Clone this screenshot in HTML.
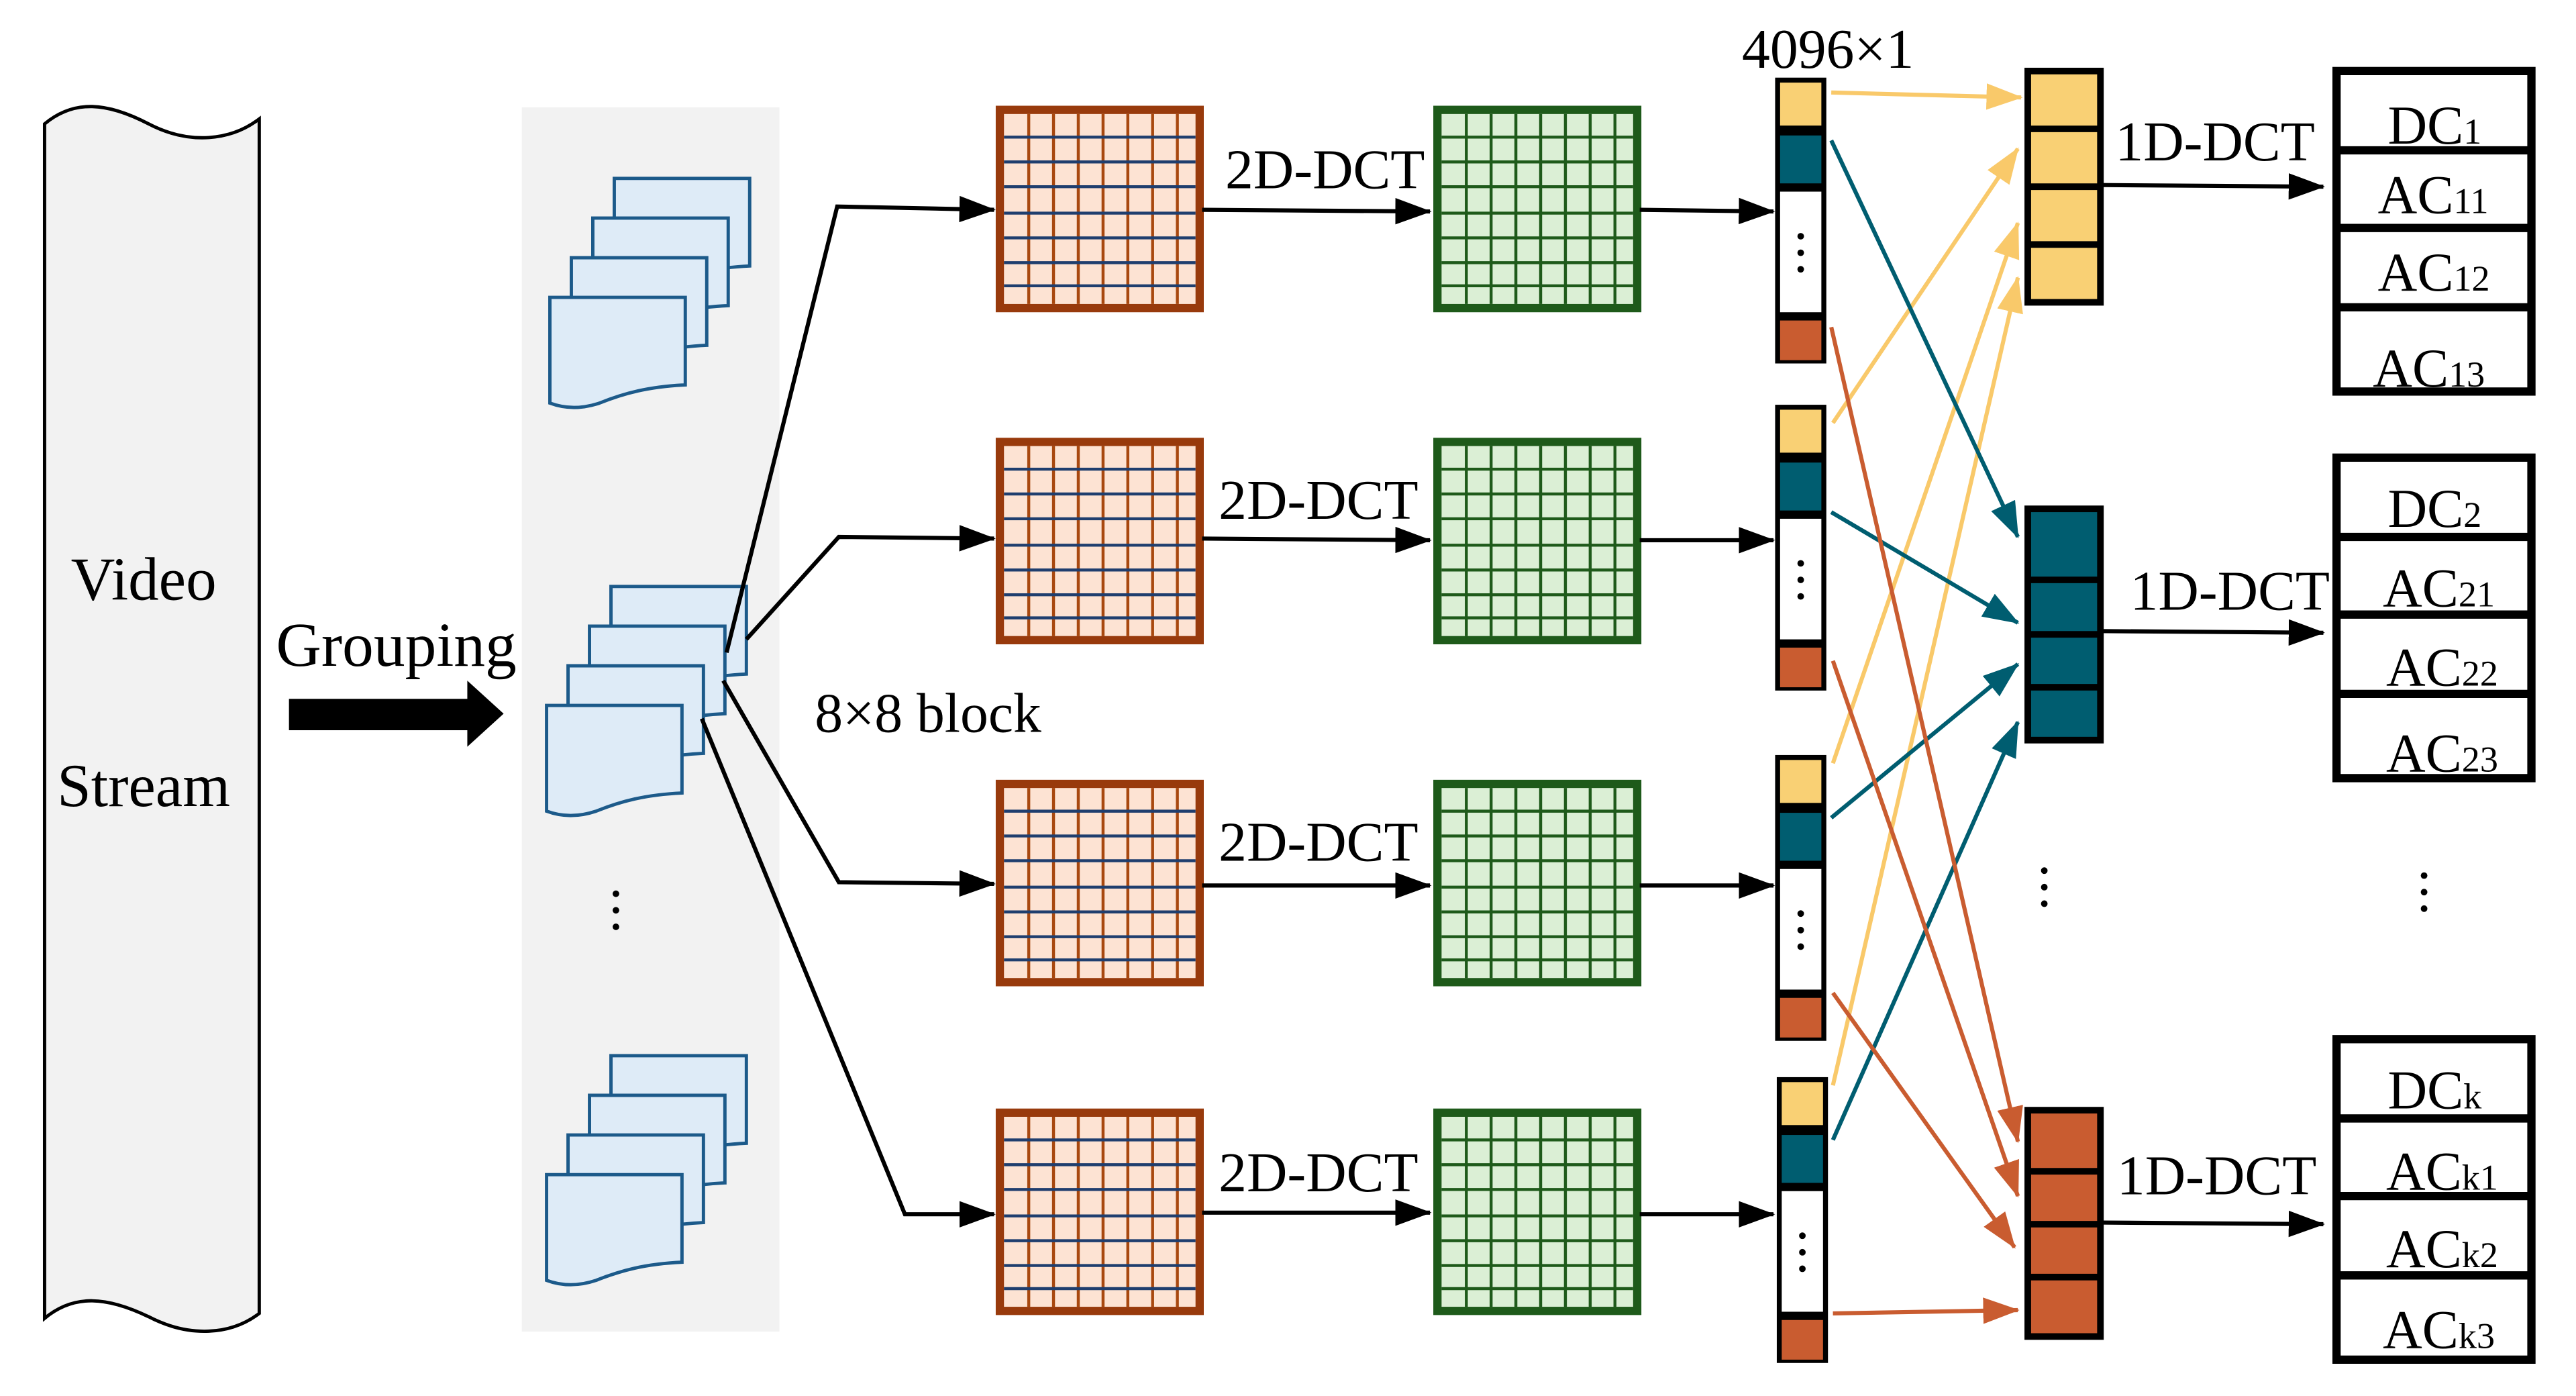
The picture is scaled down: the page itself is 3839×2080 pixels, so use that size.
<!DOCTYPE html>
<html><head><meta charset="utf-8"><style>html,body{margin:0;padding:0;background:#fff}svg{display:block}text{font-family:"Liberation Serif",serif;fill:#000}</style></head><body>
<svg width="3839" height="2080" viewBox="0 0 1560 845" preserveAspectRatio="none" xmlns="http://www.w3.org/2000/svg">
<defs>
<marker id="mkb" markerWidth="22" markerHeight="18" refX="21" refY="9" orient="auto" markerUnits="userSpaceOnUse"><path d="M0,1 L22,9 L0,17 Z" fill="#000"/></marker>
<marker id="my" markerWidth="22" markerHeight="18" refX="21" refY="9" orient="auto" markerUnits="userSpaceOnUse"><path d="M0,1 L22,9 L0,17 Z" fill="#f9c96a"/></marker>
<marker id="mt" markerWidth="22" markerHeight="18" refX="21" refY="9" orient="auto" markerUnits="userSpaceOnUse"><path d="M0,1 L22,9 L0,17 Z" fill="#005d70"/></marker>
<marker id="mo" markerWidth="22" markerHeight="18" refX="21" refY="9" orient="auto" markerUnits="userSpaceOnUse"><path d="M0,1 L22,9 L0,17 Z" fill="#c95c30"/></marker>
<g id="rg">
<rect x="1.5" y="1.5" width="121" height="120" fill="#fde3d3" stroke="#983a0c" stroke-width="5"/>
<g stroke="#a8480f" stroke-width="1.8"><line x1="19" y1="4" x2="19" y2="119"/><line x1="34" y1="4" x2="34" y2="119"/><line x1="49" y1="4" x2="49" y2="119"/><line x1="64" y1="4" x2="64" y2="119"/><line x1="79" y1="4" x2="79" y2="119"/><line x1="94" y1="4" x2="94" y2="119"/><line x1="109" y1="4" x2="109" y2="119"/></g>
<g stroke="#1f3e6e" stroke-width="1.8"><line x1="4" y1="18" x2="120" y2="18"/><line x1="4" y1="33" x2="120" y2="33"/><line x1="4" y1="48" x2="120" y2="48"/><line x1="4" y1="64" x2="120" y2="64"/><line x1="4" y1="79" x2="120" y2="79"/><line x1="4" y1="94" x2="120" y2="94"/><line x1="4" y1="108" x2="120" y2="108"/></g>
</g>
<g id="gg">
<rect x="1.5" y="1.5" width="121" height="120" fill="#dbefd5" stroke="#1e5a1a" stroke-width="5"/>
<g stroke="#1e5a1a" stroke-width="1.8"><line x1="19" y1="4" x2="19" y2="119"/><line x1="34" y1="4" x2="34" y2="119"/><line x1="49" y1="4" x2="49" y2="119"/><line x1="64" y1="4" x2="64" y2="119"/><line x1="79" y1="4" x2="79" y2="119"/><line x1="94" y1="4" x2="94" y2="119"/><line x1="109" y1="4" x2="109" y2="119"/>
<line x1="4" y1="18" x2="120" y2="18"/><line x1="4" y1="33" x2="120" y2="33"/><line x1="4" y1="48" x2="120" y2="48"/><line x1="4" y1="64" x2="120" y2="64"/><line x1="4" y1="79" x2="120" y2="79"/><line x1="4" y1="94" x2="120" y2="94"/><line x1="4" y1="108" x2="120" y2="108"/></g>
</g>
<path id="pg" d="M0,0 H82 V53 C60,54 45,58 30,64 C18,68 8,67 0,64 Z" fill="#deebf7" stroke="#1c5a8a" stroke-width="2"/>
<g id="stk"><use href="#pg" x="39" y="-72"/><use href="#pg" x="26" y="-48"/><use href="#pg" x="13" y="-24"/><use href="#pg" x="0" y="0"/></g>
<g id="vec">
<rect x="0" y="0" width="31" height="173" fill="#000"/>
<rect x="3" y="3" width="25" height="26" fill="#f9d074"/>
<rect x="3" y="35" width="25" height="29" fill="#005d70"/>
<rect x="3" y="69" width="25" height="73" fill="#fff"/>
<rect x="3" y="147" width="25" height="24" fill="#c95c30"/>
<circle cx="15.5" cy="96" r="2" fill="#000"/><circle cx="15.5" cy="106" r="2" fill="#000"/><circle cx="15.5" cy="116" r="2" fill="#000"/>
</g>
<g id="outb">
<rect x="2" y="2" width="118" height="194" fill="#fff" stroke="#000" stroke-width="5"/>
<line x1="2" y1="50" x2="120" y2="50" stroke="#000" stroke-width="5"/>
<line x1="2" y1="97" x2="120" y2="97" stroke="#000" stroke-width="5"/>
<line x1="2" y1="145" x2="120" y2="145" stroke="#000" stroke-width="5"/>
</g>
</defs>

<path d="M27,75 C45,60 65,62 90,75 C115,88 140,85 157,72 V795 C140,808 115,810 90,797 C65,785 45,783 27,798 Z" fill="#f2f2f2" stroke="#000" stroke-width="2"/>
<text x="87" y="363" font-size="37" text-anchor="middle">Video</text>
<text x="87" y="488" font-size="37" text-anchor="middle">Stream</text>
<text x="240" y="403" font-size="38" text-anchor="middle">Grouping</text>
<path d="M175,423 H283 V412 L305,432 L283,452 V442 H175 Z" fill="#000"/>

<rect x="316" y="65" width="156" height="741" fill="#f2f2f2"/>
<use href="#stk" x="333" y="180"/>
<use href="#stk" x="331" y="427"/>
<use href="#stk" x="331" y="711"/>
<circle cx="373" cy="541" r="2" fill="#000"/><circle cx="373" cy="551" r="2" fill="#000"/><circle cx="373" cy="561" r="2" fill="#000"/>

<g fill="none" stroke="#000" stroke-width="2.5">
<polyline points="440,395 507,125 602,127" marker-end="url(#mkb)"/>
<polyline points="452,387 508,325 602,326" marker-end="url(#mkb)"/>
<polyline points="438,412 508,534 602,535" marker-end="url(#mkb)"/>
<polyline points="425,435 548,735 602,735" marker-end="url(#mkb)"/>
</g>
<text x="562" y="443" font-size="34" text-anchor="middle">8×8 block</text>

<use href="#rg" x="604" y="65"/><use href="#rg" x="604" y="266"/><use href="#rg" x="604" y="473"/><use href="#rg" x="604" y="672"/>
<use href="#gg" x="869" y="65"/><use href="#gg" x="869" y="266"/><use href="#gg" x="869" y="473"/><use href="#gg" x="869" y="672"/>

<g fill="none" stroke="#000" stroke-width="2.5">
<line x1="728" y1="127" x2="866" y2="128" marker-end="url(#mkb)"/>
<line x1="728" y1="326" x2="866" y2="327" marker-end="url(#mkb)"/>
<line x1="728" y1="536" x2="866" y2="536" marker-end="url(#mkb)"/>
<line x1="728" y1="734" x2="866" y2="734" marker-end="url(#mkb)"/>
<line x1="993" y1="127" x2="1074" y2="128" marker-end="url(#mkb)"/>
<line x1="993" y1="327" x2="1074" y2="327" marker-end="url(#mkb)"/>
<line x1="993" y1="536" x2="1074" y2="536" marker-end="url(#mkb)"/>
<line x1="993" y1="735" x2="1074" y2="735" marker-end="url(#mkb)"/>
</g>
<g font-size="34"><text x="742" y="114">2D-DCT</text><text x="738" y="314">2D-DCT</text><text x="738" y="521">2D-DCT</text><text x="738" y="721">2D-DCT</text></g>

<text x="1107" y="41" font-size="34" text-anchor="middle">4096×1</text>
<use href="#vec" x="1075" y="47"/>
<use href="#vec" x="1075" y="245"/>
<use href="#vec" x="1075" y="457"/>
<use href="#vec" x="1076" y="652"/>

<g fill="none" stroke-width="2.5">
<line x1="1109" y1="56" x2="1224" y2="59" stroke="#f9c96a" marker-end="url(#my)"/>
<line x1="1110" y1="256" x2="1222" y2="90" stroke="#f9c96a" marker-end="url(#my)"/>
<line x1="1110" y1="462" x2="1222" y2="135" stroke="#f9c96a" marker-end="url(#my)"/>
<line x1="1110" y1="657" x2="1222" y2="168" stroke="#f9c96a" marker-end="url(#my)"/>
<line x1="1109" y1="85" x2="1222" y2="325" stroke="#005d70" marker-end="url(#mt)"/>
<line x1="1109" y1="310" x2="1222" y2="377" stroke="#005d70" marker-end="url(#mt)"/>
<line x1="1109" y1="495" x2="1222" y2="402" stroke="#005d70" marker-end="url(#mt)"/>
<line x1="1110" y1="690" x2="1222" y2="437" stroke="#005d70" marker-end="url(#mt)"/>
<line x1="1109" y1="198" x2="1222" y2="691" stroke="#c95c30" marker-end="url(#mo)"/>
<line x1="1110" y1="400" x2="1222" y2="724" stroke="#c95c30" marker-end="url(#mo)"/>
<line x1="1110" y1="601" x2="1220" y2="755" stroke="#c95c30" marker-end="url(#mo)"/>
<line x1="1110" y1="795" x2="1222" y2="793" stroke="#c95c30" marker-end="url(#mo)"/>
</g>

<g stroke="#000" stroke-width="4">
<rect x="1228" y="43" width="44" height="140" fill="#f9d074"/>
<line x1="1228" y1="78" x2="1272" y2="78"/><line x1="1228" y1="113" x2="1272" y2="113"/><line x1="1228" y1="148" x2="1272" y2="148"/>
<rect x="1228" y="308" width="44" height="140" fill="#005d70"/>
<line x1="1228" y1="351" x2="1272" y2="351"/><line x1="1228" y1="384" x2="1272" y2="384"/><line x1="1228" y1="416" x2="1272" y2="416"/>
<rect x="1228" y="672" width="44" height="137" fill="#c95c30"/>
<line x1="1228" y1="709" x2="1272" y2="709"/><line x1="1228" y1="741" x2="1272" y2="741"/><line x1="1228" y1="773" x2="1272" y2="773"/>
</g>
<circle cx="1238" cy="527" r="2" fill="#000"/><circle cx="1238" cy="537" r="2" fill="#000"/><circle cx="1238" cy="547" r="2" fill="#000"/>
<circle cx="1468" cy="530" r="2" fill="#000"/><circle cx="1468" cy="540" r="2" fill="#000"/><circle cx="1468" cy="550" r="2" fill="#000"/>

<g fill="none" stroke="#000" stroke-width="2.5">
<line x1="1272" y1="112" x2="1407" y2="113" marker-end="url(#mkb)"/>
<line x1="1272" y1="382" x2="1407" y2="383" marker-end="url(#mkb)"/>
<line x1="1272" y1="740" x2="1407" y2="741" marker-end="url(#mkb)"/>
</g>
<g font-size="34"><text x="1281" y="97">1D-DCT</text><text x="1290" y="369">1D-DCT</text><text x="1282" y="723">1D-DCT</text></g>

<use href="#outb" x="1413" y="41"/>
<use href="#outb" x="1413" y="275"/>
<use href="#outb" x="1413" y="627"/>
<g font-size="33">
<text x="1446" y="87">DC<tspan font-size="22">1</tspan></text>
<text x="1440" y="129">AC<tspan font-size="22">11</tspan></text>
<text x="1440" y="176">AC<tspan font-size="22">12</tspan></text>
<text x="1437" y="234">AC<tspan font-size="22">13</tspan></text>
<text x="1446" y="319">DC<tspan font-size="22">2</tspan></text>
<text x="1443" y="367">AC<tspan font-size="22">21</tspan></text>
<text x="1445" y="415">AC<tspan font-size="22">22</tspan></text>
<text x="1445" y="467">AC<tspan font-size="22">23</tspan></text>
<text x="1446" y="671">DC<tspan font-size="22">k</tspan></text>
<text x="1445" y="720">AC<tspan font-size="22">k1</tspan></text>
<text x="1445" y="767">AC<tspan font-size="22">k2</tspan></text>
<text x="1443" y="816">AC<tspan font-size="22">k3</tspan></text>
</g>
</svg>
</body></html>
